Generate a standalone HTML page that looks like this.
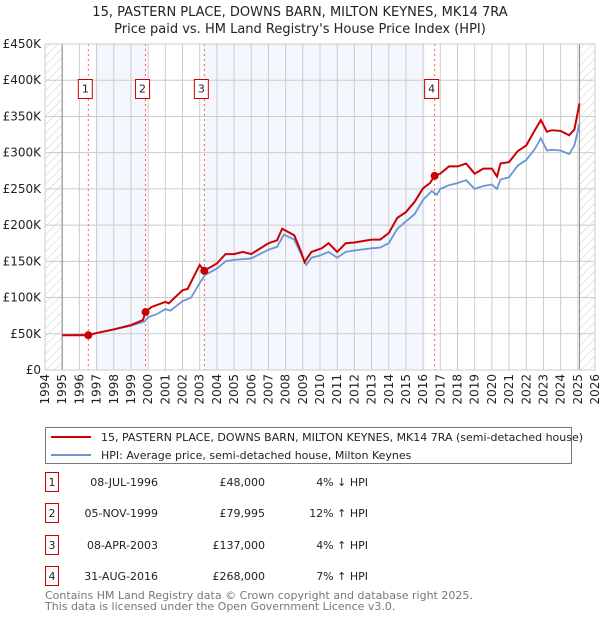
<!DOCTYPE html>
<html><head><meta charset="utf-8"><style>
body{margin:0;background:#fff;font-family:"Liberation Sans","DejaVu Sans",sans-serif;}
svg text{font-family:"DejaVu Sans","Liberation Sans",sans-serif;}
</style></head><body>
<svg width="600" height="620" viewBox="0 0 600 620" xmlns="http://www.w3.org/2000/svg">
<defs><pattern id="hatch" width="6" height="6" patternUnits="userSpaceOnUse" patternTransform="rotate(45)"><line x1="0" y1="0" x2="0" y2="6" stroke="#ccc" stroke-width="1"/></pattern></defs>
<text x="300" y="16" text-anchor="middle" font-size="13" fill="#222">15, PASTERN PLACE, DOWNS BARN, MILTON KEYNES, MK14 7RA</text>
<text x="300" y="33" text-anchor="middle" font-size="13" fill="#222">Price paid vs. HM Land Registry's House Price Index (HPI)</text>
<g id="plot"></g>
<g>
<rect x="45.5" y="427.5" width="526" height="36" fill="#fff" stroke="#777"/>
<line x1="51" y1="437" x2="91" y2="437" stroke="#cc0000" stroke-width="2"/>
<text x="101" y="441" font-size="11" fill="#222">15, PASTERN PLACE, DOWNS BARN, MILTON KEYNES, MK14 7RA (semi-detached house)</text>
<line x1="51" y1="455" x2="91" y2="455" stroke="#6a96d4" stroke-width="2"/>
<text x="101" y="459" font-size="11" fill="#222">HPI: Average price, semi-detached house, Milton Keynes</text>
</g>
<g id="table" font-size="11" fill="#222"></g>
<text x="45" y="599" font-size="11" fill="#777">Contains HM Land Registry data © Crown copyright and database right 2025.</text>
<text x="45" y="610" font-size="11" fill="#777">This data is licensed under the Open Government Licence v3.0.</text>
</svg>
<script>
const yTicks=[0,50,100,150,200,250,300,350,400,450];
const yTickLabels=["£0","£50K","£100K","£150K","£200K","£250K","£300K","£350K","£400K","£450K"];
const xYears=[1994,1995,1996,1997,1998,1999,2000,2001,2002,2003,2004,2005,2006,2007,2008,2009,2010,2011,2012,2013,2014,2015,2016,2017,2018,2019,2020,2021,2022,2023,2024,2025,2026];
const redT=[1995.0,1996.0,1996.52,1997.0,1998.0,1999.0,1999.7,1999.85,2000.2,2001.0,2001.2,2002.0,2002.3,2003.0,2003.27,2004.0,2004.5,2005.0,2005.5,2006.0,2007.0,2007.5,2007.8,2008.5,2008.9,2009.1,2009.5,2010.1,2010.5,2011.0,2011.5,2012.0,2013.0,2013.5,2014.0,2014.5,2015.0,2015.5,2016.0,2016.4,2016.67,2017.0,2017.5,2018.0,2018.5,2019.0,2019.5,2020.0,2020.3,2020.5,2021.0,2021.5,2022.0,2022.5,2022.85,2023.2,2023.5,2024.0,2024.5,2024.8,2025.1];
const redV=[48,48,48,51,56,62,69,80,87,94,92,110,112,145,137,147,160,160,163,160,175,179,195,186,163,149,163,168,175,163,175,176,180,180,189,210,218,232,251,258,268,271,281,281,285,271,278,278,267,285,287,302,310,331,345,329,331,330,324,332,368];
const hpiT=[1995.0,1996.0,1996.52,1997.0,1998.0,1999.0,1999.8,2000.0,2000.5,2001.0,2001.3,2002.0,2002.5,2003.0,2003.3,2004.0,2004.5,2005.0,2005.5,2006.0,2007.0,2007.5,2007.9,2008.5,2009.0,2009.2,2009.5,2010.0,2010.5,2011.0,2011.5,2012.0,2013.0,2013.5,2014.0,2014.5,2015.0,2015.5,2016.0,2016.5,2016.8,2017.0,2017.5,2018.0,2018.5,2019.0,2019.5,2020.0,2020.3,2020.5,2021.0,2021.5,2022.0,2022.5,2022.85,2023.2,2023.5,2024.0,2024.5,2024.8,2025.1];
const hpiV=[48,49,49,51,56,61,67,73,77,84,82,95,100,120,131,140,150,152,153,154,166,170,187,180,155,145,155,158,163,155,163,165,168,169,175,195,205,215,235,247,242,250,255,258,262,250,254,256,250,263,266,282,290,305,320,303,304,303,298,310,340];
const saleT=[1996.52,1999.85,2003.27,2016.67];
const saleV=[48,79.995,137,268];
const saleLabels=["1","2","3","4"];
const saleDates=["08-JUL-1996","05-NOV-1999","08-APR-2003","31-AUG-2016"];
const salePrices=["£48,000","£79,995","£137,000","£268,000"];
const saleHpi=["4% ↓ HPI","12% ↑ HPI","4% ↑ HPI","7% ↑ HPI"];
const L=45,R=595,T=44,B=370;
const x=t=>L+(t-1994)/32*(R-L);
const y=v=>B-v/450*(B-T);
const NS="http://www.w3.org/2000/svg";
const g=document.getElementById('plot');
function mk(tag,attrs,parent){const e=document.createElementNS(NS,tag);for(const k in attrs)e.setAttribute(k,attrs[k]);(parent||g).appendChild(e);return e;}
let e;
e=mk('rect',{x:L,y:T,width:R-L,height:B-T,fill:'#fff'});


e=mk('rect',{x:x(1996.97),y:T,width:x(saleT[1])-x(1996.97),height:B-T,fill:'#f3f6fd'});


e=mk('rect',{x:x(saleT[2]),y:T,width:x(2016.1)-x(saleT[2]),height:B-T,fill:'#f3f6fd'});


e=mk('rect',{x:L,y:T,width:x(1995)-L,height:B-T,fill:'url(#hatch)'});


e=mk('rect',{x:x(2025.1),y:T,width:R-x(2025.1),height:B-T,fill:'url(#hatch)'});


xYears.forEach(yr=>{
 e=mk('line',{x1:x(yr),x2:x(yr),y1:T,y2:B,stroke:'#ccc','stroke-width':1});
 
 
 e=mk('text',{x:0,y:0,'font-size':12,fill:'#222','text-anchor':'end',transform:`translate(${x(yr)+4},${B+4}) rotate(-90)`});
 e.textContent=yr;
 
 
});
yTicks.forEach((v,i)=>{
 e=mk('line',{x1:L,x2:R,y1:y(v),y2:y(v),stroke:'#ccc','stroke-width':1});
 
 
 e=mk('text',{x:L-4,y:y(v)+4,'font-size':12,fill:'#222','text-anchor':'end'});
 e.textContent=yTickLabels[i];
 
 
});
e=mk('line',{x1:x(1995),x2:x(1995),y1:T,y2:B,stroke:'#888'});


e=mk('line',{x1:x(2025.1),x2:x(2025.1),y1:T,y2:B,stroke:'#888'});


saleT.forEach((t,i)=>{
 e=mk('line',{x1:x(t),x2:x(t),y1:T,y2:B,stroke:'#f06060','stroke-dasharray':'2,3'});
 
 
});
e=mk('polyline',{points:hpiT.map((t,i)=>x(t)+','+y(hpiV[i])).join(' '),fill:'none',stroke:'#6a96d4','stroke-width':1.8});


e=mk('polyline',{points:redT.map((t,i)=>x(t)+','+y(redV[i])).join(' '),fill:'none',stroke:'#cc0000','stroke-width':2});


saleT.forEach((t,i)=>{
 e=mk('circle',{cx:x(t),cy:y(saleV[i]),r:4,fill:'#cc0000'});
 
 
 const bx=x(t)-3;
 e=mk('rect',{x:bx-7,y:79.5,width:14,height:19,fill:'#fff',stroke:'#cc0000'});
 
 
 e=mk('text',{x:bx,y:92.5,'font-size':11,fill:'#222','text-anchor':'middle'});
 e.textContent=saleLabels[i];
 
 
});
e=mk('rect',{x:L,y:T,width:R-L,height:B-T,fill:'none',stroke:'#ccc'});


const tb=document.getElementById('table');
const rowY=[482,513,545,576];
saleLabels.forEach((s,i)=>{
 const cy=rowY[i];
 e=mk('rect',{x:45.5,y:cy-9.5,width:13,height:19,fill:'#fff',stroke:'#cc0000'},tb);
 
 
 e=mk('text',{x:52,y:cy+4,'text-anchor':'middle'},tb);e.textContent=s;
 
 
 e=mk('text',{x:158,y:cy+4,'text-anchor':'end'},tb);e.textContent=saleDates[i];
 
 
 e=mk('text',{x:265,y:cy+4,'text-anchor':'end'},tb);e.textContent=salePrices[i];
 
 
 e=mk('text',{x:368,y:cy+4,'text-anchor':'end'},tb);e.textContent=saleHpi[i];
 
 
});
</script>
</body></html>
